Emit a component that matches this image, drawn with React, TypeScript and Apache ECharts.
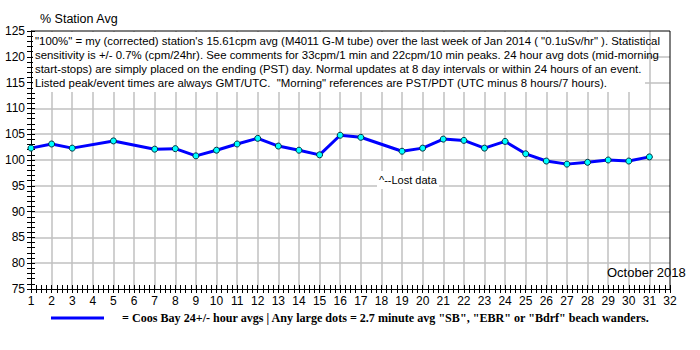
import React, { useEffect, useRef } from "react";
import * as echarts from "echarts";

const days = [1, 2, 3, 5, 7, 8, 9, 10, 11, 12, 13, 14, 15, 16, 17, 19, 20, 21, 22, 23, 24, 25, 26, 27, 28, 29, 30, 31];
const values = [102.3, 103.1, 102.3, 103.7, 102.1, 102.2, 100.8, 101.9, 103.1, 104.2, 102.7, 101.9, 101.0, 104.8, 104.4, 101.7, 102.3, 104.05, 103.8, 102.3, 103.6, 101.2, 99.8, 99.2, 99.55, 100.0, 99.8, 100.6];

const noteLines = [
  "\"100%\" = my (corrected) station's 15.61cpm avg (M4011 G-M tube) over the last week of Jan 2014 ( \"0.1uSv/hr\" ). Statistical",
  "sensitivity is +/- 0.7% (cpm/24hr). See comments for 33cpm/1 min and 22cpm/10 min peaks. 24 hour avg dots (mid-morning",
  "start-stops) are simply placed on the ending (PST) day. Normal updates at 8 day intervals or within 24 hours of an event.",
  "Listed peak/event times are always GMT/UTC.  \"Morning\" references are PST/PDT (UTC minus 8 hours/7 hours).",
];
const yTitle = "% Station Avg";
const monthLabel = "October 2018";
const lostNote = "^--Lost data";
const legendText = "= Coos Bay 24+/- hour avgs | Any large dots = 2.7 minute avg \"SB\", \"EBR\" or \"Bdrf\" beach wanders.";

const SANS = "'Liberation Sans', Arial, sans-serif";
const SERIF = "'Liberation Serif', 'Times New Roman', serif";

export default function App() {
  const ref = useRef<HTMLDivElement>(null);
  useEffect(() => {
    if (!ref.current) return;
    const chart = echarts.init(ref.current, null, { renderer: "svg" });
    const G = { left: 31, top: 31, width: 639, height: 258 };
    const axisCommon = {
      axisLabel: { show: false },
      splitLine: { show: false },
      axisLine: { show: false },
    };
    const data = days.map((d, i) => [d, values[i]]);
    chart.setOption({
      animation: false,
      backgroundColor: "#fff",
      grid: { ...G, containLabel: false, show: false },
      xAxis: [
        {
          type: "value", min: 1, max: 32, interval: 1,
          axisLine: { show: true, lineStyle: { color: "#000", width: 1 } },
          axisTick: { show: true, length: 4, lineStyle: { color: "#000" } },
          minorTick: { show: true, splitNumber: 4, length: 4, lineStyle: { color: "#000" } },
          axisLabel: { color: "#000", fontSize: 12, fontFamily: SANS, margin: 6 },
          splitLine: { show: true, showMaxLine: false, showMinLine: false, lineStyle: { color: "#c0c0c0", width: 1.5 } },
        },
        {
          type: "value", min: 1, max: 32, interval: 1, position: "bottom",
          ...axisCommon,
          axisTick: { show: true, inside: true, length: 4, lineStyle: { color: "#000" } },
          minorTick: { show: true, splitNumber: 4, length: 4, lineStyle: { color: "#000" } },
        },
      ],
      yAxis: [
        {
          type: "value", min: 75, max: 125, interval: 5,
          axisLine: { show: true, lineStyle: { color: "#000", width: 1 } },
          axisTick: { show: true, length: 4, lineStyle: { color: "#000" } },
          minorTick: { show: true, splitNumber: 5, length: 4, lineStyle: { color: "#000" } },
          axisLabel: { color: "#000", fontSize: 12, fontFamily: SANS, margin: 6 },
          splitLine: { show: true, showMaxLine: false, showMinLine: false, lineStyle: { color: "#c0c0c0", width: 1.5 } },
        },
        {
          type: "value", min: 75, max: 125, interval: 5, position: "left",
          ...axisCommon,
          axisTick: { show: true, inside: true, length: 4, lineStyle: { color: "#000" } },
          minorTick: { show: true, splitNumber: 5, length: 4, lineStyle: { color: "#000" } },
        },
      ],
      series: [
        {
          type: "line",
          data,
          symbol: "circle",
          symbolSize: 6,
          lineStyle: { color: "#0000ff", width: 3 },
          itemStyle: { color: "#00ffff", borderColor: "#003040", borderWidth: 1 },
          z: 5,
        },
      ],
      graphic: [
        {
          type: "line", z: 20, silent: true,
          shape: { x1: G.left, y1: G.top, x2: G.left + G.width, y2: G.top },
          style: { stroke: "#000", lineWidth: 1 },
        },
        {
          type: "line", z: 20, silent: true,
          shape: { x1: G.left + G.width, y1: G.top, x2: G.left + G.width, y2: G.top + G.height },
          style: { stroke: "#000", lineWidth: 1 },
        },
        {
          type: "rect", z: 10, silent: true,
          shape: { x: 33, y: 32, width: 612, height: 60 },
          style: { fill: "#fff" },
        },
        ...noteLines.map((t, i) => ({
          type: "text", z: 11, silent: true,
          x: 35, y: 41 + i * 14,
          style: { text: t, fill: "#000", font: `11.4px ${SANS}`, textVerticalAlign: "middle" },
        })),
        {
          type: "text", z: 11, silent: true, x: 40, y: 19,
          style: { text: yTitle, fill: "#000", font: `12.5px ${SANS}`, textVerticalAlign: "middle" },
        },
        {
          type: "text", z: 11, silent: true, x: 607, y: 272,
          style: { text: monthLabel, fill: "#000", font: `13px ${SANS}`, textVerticalAlign: "middle" },
        },
        {
          type: "rect", z: 10, silent: true,
          shape: { x: 377, y: 171, width: 62, height: 18 },
          style: { fill: "#fff" },
        },
        {
          type: "text", z: 11, silent: true, x: 379, y: 180,
          style: { text: lostNote, fill: "#000", font: `11px ${SANS}`, textVerticalAlign: "middle" },
        },
        {
          type: "line", z: 11, silent: true,
          shape: { x1: 51, y1: 318, x2: 104, y2: 318 },
          style: { stroke: "#0000ff", lineWidth: 3 },
        },
        {
          type: "text", z: 11, silent: true, x: 122, y: 318,
          style: { text: legendText, fill: "#000", font: `bold 12.1px ${SERIF}`, textVerticalAlign: "middle" },
        },
      ],
    });
    return () => chart.dispose();
  }, []);
  return <div ref={ref} style={{ width: 700, height: 350, position: "absolute", left: 0, top: 0 }} />;
}
